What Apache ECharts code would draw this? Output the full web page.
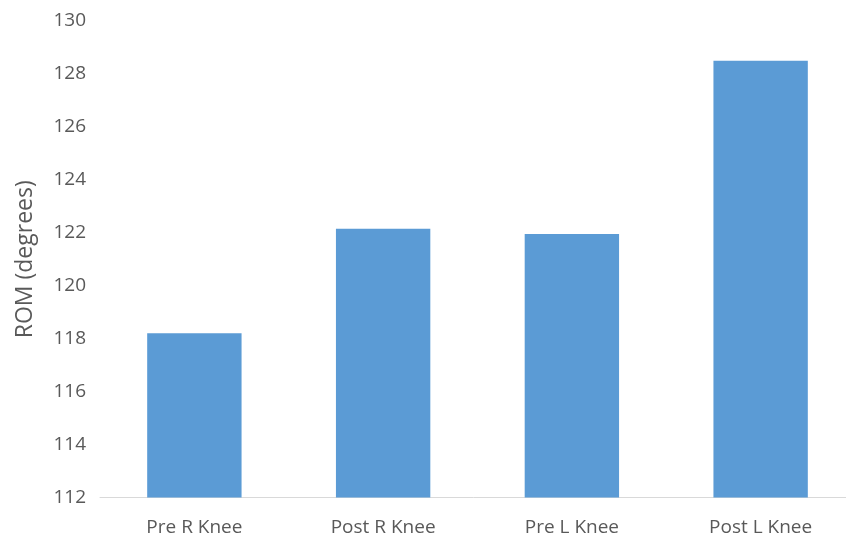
<!DOCTYPE html>
<html>
<head>
<meta charset="utf-8">
<script src="https://cdn.jsdelivr.net/npm/echarts@6/dist/echarts.min.js"></script>
<style>html,body{margin:0;padding:0;background:#fff;}#c{width:846px;height:540px;}</style>
</head>
<body>
<div id="c"></div>
<script>
const categories = ['Pre R Knee', 'Post R Knee', 'Pre L Knee', 'Post L Knee'];
const romValues = [118.2, 122.15, 121.95, 128.5];
const yTicks = { min: 112, max: 130, interval: 2 };
const yName = 'ROM (degrees)';

const chart = echarts.init(document.getElementById('c'), null, { renderer: 'canvas' });
chart.setOption({
  animation: false,
  backgroundColor: '#ffffff',
  textStyle: { fontFamily: 'Open Sans' },
  grid: { left: 100, width: 755, top: 21, bottom: 42.5, containLabel: false, outerBoundsMode: 'none' },
  xAxis: {
    type: 'category',
    data: categories,
    axisLine: { lineStyle: { color: '#d9d9d9', width: 1 } },
    axisTick: { show: false },
    axisLabel: { color: '#595959', fontSize: 19, margin: 21, fontFamily: 'Open Sans' }
  },
  yAxis: {
    type: 'value',
    min: yTicks.min, max: yTicks.max, interval: yTicks.interval,
    name: yName,
    nameLocation: 'middle',
    nameGap: 63,
    nameTextStyle: { color: '#595959', fontSize: 23, fontFamily: 'Open Sans' },
    axisLine: { show: false },
    axisTick: { show: false },
    splitLine: { show: false },
    axisLabel: { color: '#595959', fontSize: 19, margin: 14, fontFamily: 'Open Sans' }
  },
  series: [{
    type: 'bar',
    data: romValues,
    barWidth: '50%',
    itemStyle: { color: '#5b9bd5' }
  }]
});
</script>
</body>
</html>
